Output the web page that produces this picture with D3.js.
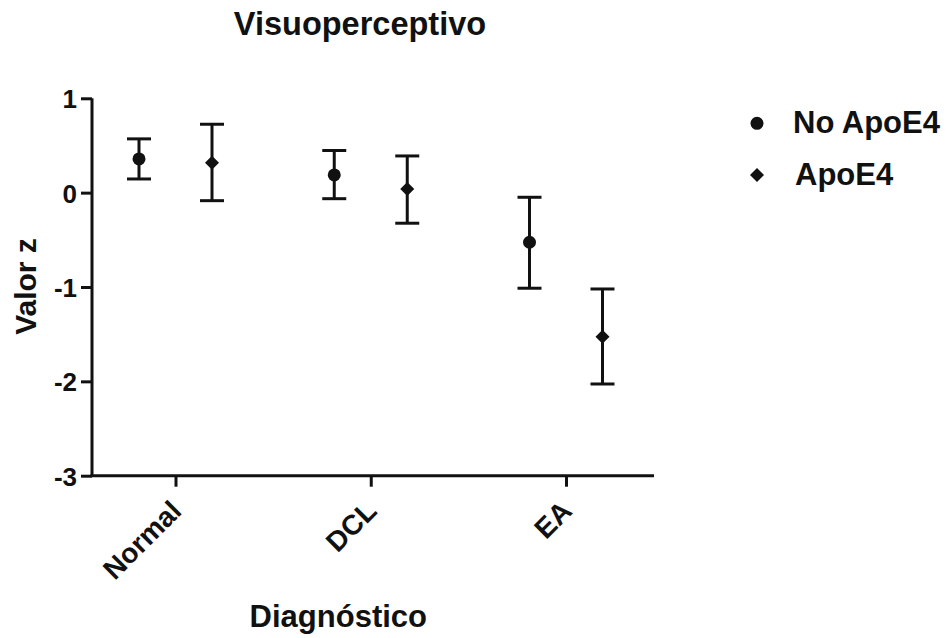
<!DOCTYPE html>
<html>
<head>
<meta charset="utf-8">
<script src="https://cdn.jsdelivr.net/npm/d3@7/dist/d3.min.js"></script>
<style>
  html, body { margin: 0; padding: 0; background: #fff; }
  svg { display: block; }
  text { font-family: "Liberation Sans", Arial, sans-serif; font-weight: bold; fill: #111; }
</style>
</head>
<body>
<svg id="chart" width="948" height="638"></svg>
<script>
// Diagnostic groups and series
const categories = ["Normal", "DCL", "EA"];
const seriesNames = ["No ApoE4", "ApoE4"];

// Mean z-score per group, with lower / upper error bar limits
const noApoMean  = [0.357, 0.188, -0.526];
const noApoLow   = [0.145, -0.064, -1.013];
const noApoHigh  = [0.570, 0.447, -0.049];

const apoMean    = [0.318, 0.039, -1.526];
const apoLow     = [-0.085, -0.324, -2.028];
const apoHigh    = [0.725, 0.389, -1.021];

const yTicks = [1, 0, -1, -2, -3];

const svg = d3.select("#chart");

const axisLeft = 92, axisRight = 654, axisTop = 98.3, axisBottom = 475.7;

const y = d3.scaleLinear().domain([-3, 1]).range([axisBottom, axisTop]);
const x = d3.scalePoint().domain(categories).range([175.5, 566]);
const offset = d3.scalePoint().domain(seriesNames).range([-36.5, 36.5]);

// Square turned 45 degrees, r = half diagonal
const diamond = (r) => `M0,${-r}L${r},0L0,${r}L${-r},0Z`;
const circle = d3.symbol().type(d3.symbolCircle).size(Math.PI * 6.5 * 6.5);
const markerPath = (shape) => shape === "circle" ? circle() : diamond(7);

const series = [
  { name: seriesNames[0], mean: noApoMean, low: noApoLow, high: noApoHigh, shape: "circle" },
  { name: seriesNames[1], mean: apoMean,   low: apoLow,   high: apoHigh,   shape: "diamond" }
];

const fontStyle = (sel, size) => sel
  .style("font-size", size + "px")
  .style("font-family", "Liberation Sans, Arial, sans-serif")
  .style("font-weight", "bold")
  .attr("fill", "#111");

// Y axis
const yAxis = svg.append("g")
  .attr("transform", `translate(${axisLeft},0)`)
  .call(d3.axisLeft(y).tickValues(yTicks).tickFormat(d => String(d)).tickSize(11).tickSizeOuter(0));
yAxis.select(".domain").attr("stroke", "#111").attr("stroke-width", 3)
  .attr("d", `M0,${axisTop}V${axisBottom}`);
yAxis.selectAll(".tick line").attr("stroke", "#111").attr("stroke-width", 3);
yAxis.selectAll(".tick text").attr("x", -15).attr("dy", "0.36em").call(fontStyle, 26);

// X axis
const xAxis = svg.append("g")
  .attr("transform", `translate(0,${axisBottom})`)
  .call(d3.axisBottom(x).tickSize(11).tickSizeOuter(0));
xAxis.select(".domain").attr("stroke", "#111").attr("stroke-width", 3)
  .attr("d", `M${axisLeft - 1.5},0H${axisRight}`);
xAxis.selectAll(".tick line").attr("stroke", "#111").attr("stroke-width", 3);
xAxis.selectAll(".tick text")
  .attr("text-anchor", "end")
  .attr("x", 0).attr("y", 0).attr("dy", 0)
  .attr("transform", "translate(7,37) rotate(-45)")
  .call(fontStyle, 28);

// Error bars and markers
const capHalf = 12;
series.forEach(s => {
  const g = svg.append("g");
  const px = (c) => x(c) + offset(s.name);
  const bars = g.selectAll("g.bar").data(categories).join("g").attr("class", "bar");
  bars.append("line")
    .attr("x1", c => px(c)).attr("x2", c => px(c))
    .attr("y1", (c, i) => y(s.high[i])).attr("y2", (c, i) => y(s.low[i]))
    .attr("stroke", "#111").attr("stroke-width", 3);
  bars.append("line")
    .attr("x1", c => px(c) - capHalf).attr("x2", c => px(c) + capHalf)
    .attr("y1", (c, i) => y(s.high[i])).attr("y2", (c, i) => y(s.high[i]))
    .attr("stroke", "#111").attr("stroke-width", 3);
  bars.append("line")
    .attr("x1", c => px(c) - capHalf).attr("x2", c => px(c) + capHalf)
    .attr("y1", (c, i) => y(s.low[i])).attr("y2", (c, i) => y(s.low[i]))
    .attr("stroke", "#111").attr("stroke-width", 3);
  bars.append("path")
    .attr("d", markerPath(s.shape))
    .attr("transform", (c, i) => `translate(${px(c)},${y(s.mean[i])})`)
    .attr("fill", "#111");
});

// Title and axis titles
svg.append("text").attr("x", 360).attr("y", 35).attr("text-anchor", "middle")
  .style("font-size", "32.5px").text("Visuoperceptivo");
svg.append("text").attr("x", 338.3).attr("y", 627).attr("text-anchor", "middle")
  .style("font-size", "31px").text("Diagnóstico");
svg.append("text")
  .attr("transform", `translate(36,286.5) rotate(-90)`)
  .attr("text-anchor", "middle")
  .style("font-size", "30px").text("Valor z");

// Legend
const legend = svg.append("g");
const legendRows = legend.selectAll("g").data(series).join("g")
  .attr("transform", (d, i) => `translate(757,${123.3 + i * 51.7})`);
legendRows.append("path")
  .attr("d", d => markerPath(d.shape))
  .attr("fill", "#111");
legendRows.append("text")
  .attr("x", (d, i) => i === 0 ? 36 : 38).attr("y", 10)
  .style("font-size", "31px").text(d => d.name);
</script>
</body>
</html>
